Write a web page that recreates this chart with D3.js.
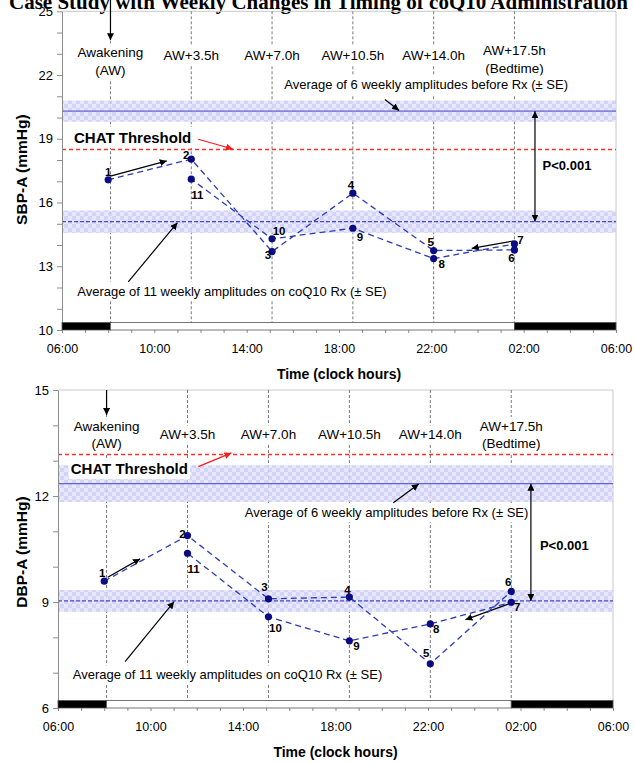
<!DOCTYPE html>
<meta charset="utf-8">
<style>
body { margin: 0; background: #fff; }
text { font-family: "Liberation Sans", Arial, sans-serif; fill: #000; }
.axis path, .axis line { stroke: #8c8c8c; }
.axis text { font-size: 13px; fill: #000; }
.xaxis text { font-size: 12.5px; }
.vline { stroke: #7a7a7a; stroke-dasharray: 3,2; }
.slot { font-size: 13.5px; }
.note { font-size: 13px; }
.ptlabel { font-size: 11.5px; font-weight: bold; }
</style>
<svg width="634" height="763"></svg>
<script src="https://d3js.org/d3.v7.min.js"></script>
<script>

// ---- data ----
var slotNames = [["Awakening", "(AW)"], ["AW+3.5h"], ["AW+7.0h"], ["AW+10.5h"], ["AW+14.0h"], ["AW+17.5h", "(Bedtime)"]];
var slotHours = [0, 3.5, 7, 10.5, 14, 17.5];
var awakening = 8.1;   // clock hour of awakening
var weeks = [1, 2, 3, 4, 5, 6, 7, 8, 9, 10, 11];
var weekHours = [-0.1, 3.5, 7, 10.5, 14, 17.5, 17.5, 14, 10.5, 7, 3.5];
var sbpValues = [17.07, 18.04, 13.69, 16.44, 13.74, 13.77, 14.05, 13.36, 14.79, 14.29, 17.1];
var dbpValues = [9.59, 10.88, 9.09, 9.14, 7.25, 9.30, 8.99, 8.38, 7.90, 8.58, 10.38];
var sbpBefore = 20.3, sbpBeforeSE = 0.5, sbpAfter = 15.1, sbpAfterSE = 0.53, sbpThreshold = 18.5;
var dbpBefore = 12.35, dbpBeforeSE = 0.52, dbpAfter = 9.03, dbpAfterSE = 0.31, dbpThreshold = 13.2;
var xTicks = [6, 10, 14, 18, 22, 26, 30];
var xTickLabels = ["06:00", "10:00", "14:00", "18:00", "22:00", "02:00", "06:00"];

var svg = d3.select("svg");
var defs = svg.append("defs");

function marker(id, color) {
  defs.append("marker")
      .attr("id", id)
      .attr("viewBox", "0 0 10 10")
      .attr("refX", 10).attr("refY", 5)
      .attr("markerWidth", 7).attr("markerHeight", 7)
      .attr("markerUnits", "userSpaceOnUse")
      .attr("orient", "auto-start-reverse")
    .append("path")
      .attr("d", "M0,0L10,5L0,10z")
      .attr("fill", color);
}
marker("ahead", "#000");
marker("rhead", "#ff1a1a");

var pat = defs.append("pattern")
    .attr("id", "band")
    .attr("width", 8).attr("height", 8)
    .attr("patternUnits", "userSpaceOnUse");
pat.append("rect").attr("width", 8).attr("height", 8).attr("fill", "#e3e3fd");
pat.append("rect").attr("width", 4).attr("height", 4).attr("fill", "#cdcdf8");
pat.append("rect").attr("x", 4).attr("y", 4).attr("width", 4).attr("height", 4).attr("fill", "#cdcdf8");

// cut-off title at the very top
svg.append("text")
    .attr("x", 628).attr("y", 9)
    .attr("text-anchor", "end")
    .style("font-family", "'Liberation Serif', 'Times New Roman', serif")
    .style("font-weight", "bold")
    .style("font-size", "21px")
    .text("Case Study with Weekly Changes in Timing of coQ10 Administration");

function boxedText(g, x, y, lines, cls, anchor, lh) {
  var grp = g.append("g");
  var bg = grp.append("rect").attr("fill", "#fff");
  var t = grp.append("text")
      .attr("class", cls)
      .attr("text-anchor", anchor);
  lines.forEach(function(s, i) {
    t.append("tspan").attr("x", x).attr("y", y + i * lh).text(s);
  });
  var b = t.node().getBBox();
  bg.attr("x", b.x - 2).attr("y", b.y - 2).attr("width", b.width + 4).attr("height", b.height + 4);
  return t;
}

function arrow(g, x, y, a, b, head, color) {
  g.append("line")
      .attr("x1", x(a[0])).attr("y1", y(a[1]))
      .attr("x2", x(b[0])).attr("y2", y(b[1]))
      .attr("stroke", color || "#000")
      .attr("stroke-width", 1.2)
      .attr("marker-end", "url(#" + (head || "ahead") + ")");
}

function panel(c) {
  var x = d3.scaleLinear().domain([6, 30]).range([c.left, c.right]);
  var y = d3.scaleLinear().domain(c.domain).range([c.bottom, c.top]);
  var g = svg.append("g");
  var bed = awakening + 17.5;

  // frame
  g.append("path")
      .attr("d", "M" + c.left + "," + c.top + "H" + c.right + "V" + c.bottom)
      .attr("fill", "none").attr("stroke", "#c8c8c8");

  // event verticals
  g.selectAll(".vline").data(slotHours).enter().append("line")
      .attr("class", "vline")
      .attr("x1", function(d) { return x(awakening + d); })
      .attr("x2", function(d) { return x(awakening + d); })
      .attr("y1", c.top).attr("y2", c.bottom);

  // SE bands
  [[c.before, c.beforeSE], [c.after, c.afterSE]].forEach(function(m) {
    g.append("rect")
        .attr("x", c.left + 1).attr("width", c.right - c.left - 1)
        .attr("y", y(m[0] + m[1])).attr("height", y(m[0] - m[1]) - y(m[0] + m[1]))
        .attr("fill", "url(#band)").attr("fill-opacity", 0.85);
  });
  g.append("line")
      .attr("x1", c.left).attr("x2", c.right)
      .attr("y1", y(c.before)).attr("y2", y(c.before))
      .attr("stroke", "#6464cf").attr("stroke-width", 1.4);
  g.append("line")
      .attr("x1", c.left).attr("x2", c.right)
      .attr("y1", y(c.after)).attr("y2", y(c.after))
      .attr("stroke", "#4848c0").attr("stroke-width", 1.2)
      .attr("stroke-dasharray", "4,2");
  g.append("line")
      .attr("x1", c.left).attr("x2", c.right)
      .attr("y1", Math.round(y(c.threshold)) + 0.5).attr("y2", Math.round(y(c.threshold)) + 0.5)
      .attr("stroke", "#ff3030").attr("stroke-width", 1.4)
      .attr("stroke-dasharray", "4,3");

  // slot labels
  slotNames.forEach(function(lines, i) {
    var vy = lines.length > 1 ? c.labelY2 : c.labelY1;
    if (i === 5) vy = c.labelY3;
    boxedText(g, x(awakening + slotHours[i]), y(vy), lines, "slot", "middle", c.lh);
  });
  arrow(g, x, y, [awakening, c.awArrow[0]], [awakening, c.awArrow[1]]);

  // notes
  boxedText(g, x(c.beforeText[0]), y(c.beforeText[1]), ["Average of 6 weekly amplitudes before Rx (\u00b1 SE)"], "note", "end", 0);
  boxedText(g, x(c.afterText[0]), y(c.afterText[1]), ["Average of 11 weekly amplitudes on coQ10 Rx (\u00b1 SE)"], "note", "start", 0);
  boxedText(g, x(c.chatText[0]), y(c.chatText[1]), ["CHAT Threshold"], "chat", "start", 0)
      .style("font-weight", "bold").style("font-size", "15px");
  arrow(g, x, y, c.chatArrow[0], c.chatArrow[1], "rhead", "#ff1a1a");
  arrow(g, x, y, c.beforeArrow[0], c.beforeArrow[1]);
  arrow(g, x, y, c.afterArrow[0], c.afterArrow[1]);
  arrow(g, x, y, c.arrow1[0], c.arrow1[1]);
  arrow(g, x, y, c.arrow7[0], c.arrow7[1]);

  // P value double arrow
  g.append("line")
      .attr("x1", x(c.pX)).attr("x2", x(c.pX))
      .attr("y1", y(c.after)).attr("y2", y(c.before))
      .attr("stroke", "#000").attr("stroke-width", 1.2)
      .attr("marker-start", "url(#ahead)")
      .attr("marker-end", "url(#ahead)");
  g.append("text")
      .attr("x", x(c.pText[0])).attr("y", y(c.pText[1]))
      .style("font-weight", "bold").style("font-size", "13px")
      .text("P<0.001");

  // weekly series
  var pts = weeks.map(function(w, i) { return {w: w, h: awakening + weekHours[i], v: c.values[i], o: c.offsets[i]}; });
  g.append("path")
      .datum(pts)
      .attr("fill", "none")
      .attr("stroke", "#2c3cb4")
      .attr("stroke-width", 1.3)
      .attr("stroke-dasharray", "6,4")
      .attr("d", d3.line().x(function(d) { return x(d.h); }).y(function(d) { return y(d.v); }));
  g.selectAll(".pt").data(pts).enter().append("circle")
      .attr("cx", function(d) { return x(d.h); })
      .attr("cy", function(d) { return y(d.v); })
      .attr("r", 3.6)
      .attr("fill", "#0b0b82");
  g.selectAll(".ptlabel").data(pts).enter().append("text")
      .attr("class", "ptlabel")
      .attr("text-anchor", "middle")
      .attr("x", function(d) { return x(d.h) + d.o[0]; })
      .attr("y", function(d) { return y(d.v) + d.o[1] + 4; })
      .text(function(d) { return d.w; });

  // axes
  var lo = c.domain[0];
  g.append("g")
      .attr("class", "axis")
      .attr("transform", "translate(" + c.left + ",0)")
      .call(d3.axisLeft(y)
          .tickValues(d3.range(c.domain[0], c.domain[1] + 1, 1))
          .tickSize(5).tickSizeOuter(0).tickPadding(4)
          .tickFormat(function(d) { return (d - lo) % 3 === 0 ? d : ""; }));

  g.append("g")
      .attr("class", "axis")
      .attr("transform", "translate(0," + c.bottom + ")")
      .call(d3.axisBottom(x).tickValues(d3.range(6, 31, 1)).tickSize(3).tickFormat(""))
      .select(".domain").remove();
  g.append("g")
      .attr("class", "axis xaxis")
      .attr("transform", "translate(0," + c.bottom + ")")
      .call(d3.axisBottom(x).tickValues(xTicks).tickSize(0).tickPadding(14)
          .tickFormat(function(d, i) { return xTickLabels[i]; }))
      .select(".domain").remove();

  // sleep / wake bar
  var segs = [[6, awakening, "#000"], [awakening, bed, "#fff"], [bed, 30, "#000"]];
  g.selectAll(".seg").data(segs).enter().append("rect")
      .attr("x", function(d) { return x(d[0]); })
      .attr("width", function(d) { return x(d[1]) - x(d[0]); })
      .attr("y", c.bottom - 7.5)
      .attr("height", 7.5)
      .attr("fill", function(d) { return d[2]; })
      .attr("stroke", "#555").attr("stroke-width", 0.8);

  g.append("text")
      .attr("x", (c.left + c.right) / 2)
      .attr("y", c.bottom + 49)
      .attr("text-anchor", "middle")
      .style("font-weight", "bold").style("font-size", "14px")
      .text("Time (clock hours)");
  g.append("text")
      .attr("transform", "translate(" + c.yLabelX + "," + ((c.top + c.bottom) / 2 + c.yLabelDy) + ") rotate(-90)")
      .attr("text-anchor", "middle")
      .style("font-weight", "bold").style("font-size", "15.5px")
      .text(c.yLabel);
}

panel({
  left: 62, right: 616, top: 11.3, bottom: 330, domain: [10, 25],
  values: sbpValues, before: sbpBefore, beforeSE: sbpBeforeSE, after: sbpAfter, afterSE: sbpAfterSE, threshold: sbpThreshold,
  offsets: [[0, -8], [-5, -4], [-4, 3], [-2, -8], [-3, -9], [-3, 8], [6, -4], [8, 5], [7, 9], [7, -8], [6, 16]],
  labelY1: 22.72, labelY2: 22.84, labelY3: 22.92, lh: 17.5,
  awArrow: [25.55, 23.64],
  beforeText: [27.92, 21.32], afterText: [6.66, 11.62], chatText: [6.52, 18.8],
  chatArrow: [[11.9, 18.98], [13.4, 18.52]],
  beforeArrow: [[19.99, 20.85], [20.6, 20.33]],
  afterArrow: [[8.87, 12.27], [11.0, 15.05]],
  arrow1: [[8.1, 17.24], [10.54, 17.96]],
  arrow7: [[25.55, 14.19], [23.75, 13.84]],
  pX: 26.49, pText: [26.82, 17.55],
  yLabel: "SBP-A (mmHg)", yLabelX: 27, yLabelDy: -1
});

panel({
  left: 58, right: 613, top: 390, bottom: 708, domain: [6, 15],
  values: dbpValues, before: dbpBefore, beforeSE: dbpBeforeSE, after: dbpAfter, afterSE: dbpAfterSE, threshold: dbpThreshold,
  offsets: [[-2, -8], [-5, -2], [-4, -12], [-2, -7], [-4, -11], [-3, -9], [6, 5], [6, 5], [7, 5], [7, 11], [6, 16]],
  labelY1: 13.6, labelY2: 13.84, labelY3: 13.84, lh: 16.8,
  awArrow: [15, 14.29],
  beforeText: [26.34, 11.4], afterText: [6.64, 6.81], chatText: [6.55, 12.62],
  chatArrow: [[12.07, 12.83], [13.5, 13.22]],
  beforeArrow: [[20.5, 11.81], [21.6, 12.34]],
  afterArrow: [[8.9, 7.31], [11.02, 9.01]],
  arrow1: [[8.15, 9.7], [9.55, 10.22]],
  arrow7: [[25.47, 8.94], [23.62, 8.5]],
  pX: 26.45, pText: [26.84, 10.48],
  yLabel: "DBP-A (mmHg)", yLabelX: 27, yLabelDy: 3
});

</script>
